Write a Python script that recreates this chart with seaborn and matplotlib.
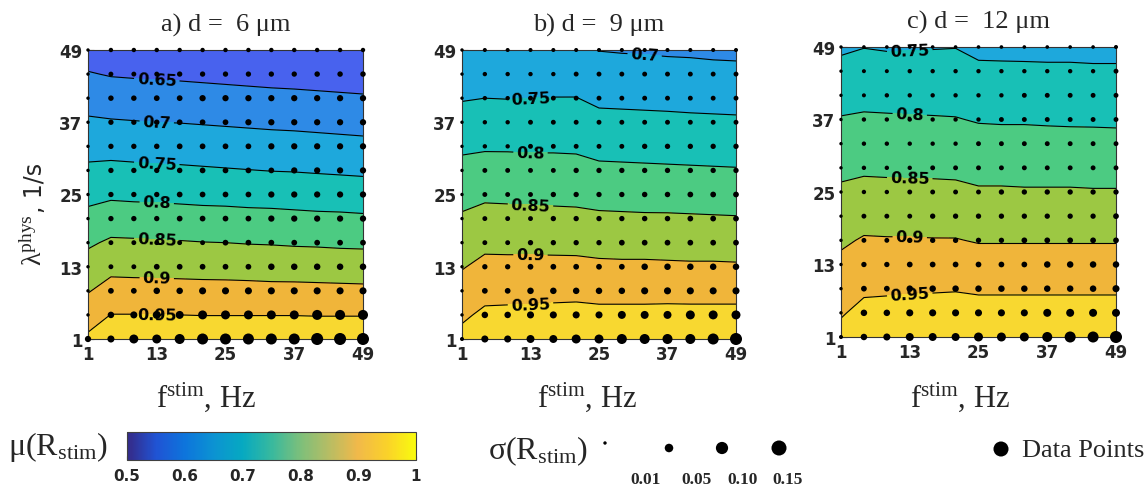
import numpy as np
import pandas as pd
import matplotlib
matplotlib.use("Agg")
import matplotlib.pyplot as plt
import seaborn as sns
from matplotlib.colors import LinearSegmentedColormap, Normalize
from matplotlib.cm import ScalarMappable

sns.set_style("ticks")
plt.rcParams["font.family"] = "DejaVu Sans"
plt.rcParams["mathtext.fontset"] = "custom"
plt.rcParams["mathtext.rm"] = "Liberation Serif"
plt.rcParams["mathtext.it"] = "Liberation Serif:italic"
plt.rcParams["mathtext.bf"] = "Liberation Serif:bold"

W, H = 1148, 489
SERIF = "Liberation Serif"

# grid: stimulation frequency (Hz) and physiological rate (1/s)
freq = [1, 5, 9, 13, 17, 21, 25, 29, 33, 37, 41, 45, 49]
lam = [1, 5, 9, 13, 17, 21, 25, 29, 33, 37, 41, 45, 49]
axis_ticks = [1, 13, 25, 37, 49]
titles = ["a) d =  6 μm", "b) d =  9 μm", "c) d =  12 μm"]

# mean R_stim, rows = lambda (1 -> 49), cols = freq (1 -> 49)
mu_6 = [
    [0.959, 0.982, 0.982, 0.983, 0.983, 0.984, 0.984, 0.984, 0.985, 0.985, 0.985, 0.986, 0.986],
    [0.927, 0.951, 0.951, 0.950, 0.950, 0.949, 0.949, 0.949, 0.949, 0.949, 0.948, 0.948, 0.948],
    [0.897, 0.918, 0.917, 0.917, 0.916, 0.915, 0.915, 0.914, 0.913, 0.913, 0.912, 0.911, 0.910],
    [0.870, 0.887, 0.886, 0.885, 0.884, 0.883, 0.882, 0.881, 0.879, 0.878, 0.877, 0.876, 0.875],
    [0.843, 0.857, 0.856, 0.854, 0.853, 0.851, 0.850, 0.848, 0.847, 0.845, 0.844, 0.842, 0.841],
    [0.814, 0.825, 0.823, 0.822, 0.820, 0.818, 0.817, 0.815, 0.814, 0.812, 0.810, 0.809, 0.807],
    [0.786, 0.792, 0.790, 0.789, 0.787, 0.785, 0.784, 0.782, 0.781, 0.779, 0.777, 0.776, 0.774],
    [0.759, 0.762, 0.760, 0.758, 0.757, 0.755, 0.753, 0.751, 0.749, 0.748, 0.746, 0.744, 0.742],
    [0.733, 0.733, 0.731, 0.729, 0.728, 0.726, 0.724, 0.722, 0.720, 0.718, 0.716, 0.714, 0.712],
    [0.707, 0.704, 0.702, 0.700, 0.699, 0.697, 0.695, 0.693, 0.691, 0.690, 0.688, 0.686, 0.684],
    [0.680, 0.675, 0.673, 0.671, 0.670, 0.668, 0.666, 0.664, 0.662, 0.661, 0.659, 0.657, 0.655],
    [0.653, 0.647, 0.645, 0.643, 0.642, 0.640, 0.638, 0.636, 0.634, 0.632, 0.630, 0.628, 0.626],
    [0.627, 0.619, 0.617, 0.616, 0.614, 0.613, 0.611, 0.610, 0.608, 0.607, 0.605, 0.604, 0.602],
]
mu_9 = [
    [0.964, 0.982, 0.984, 0.986, 0.988, 0.990, 0.989, 0.990, 0.990, 0.990, 0.991, 0.991, 0.992],
    [0.942, 0.959, 0.960, 0.961, 0.963, 0.964, 0.962, 0.962, 0.962, 0.963, 0.963, 0.963, 0.963],
    [0.919, 0.935, 0.936, 0.936, 0.937, 0.938, 0.935, 0.935, 0.935, 0.935, 0.934, 0.934, 0.934],
    [0.897, 0.912, 0.912, 0.912, 0.912, 0.912, 0.909, 0.908, 0.908, 0.907, 0.906, 0.906, 0.905],
    [0.877, 0.889, 0.888, 0.888, 0.887, 0.886, 0.883, 0.882, 0.882, 0.881, 0.880, 0.880, 0.879],
    [0.856, 0.865, 0.864, 0.863, 0.862, 0.861, 0.858, 0.857, 0.856, 0.856, 0.855, 0.854, 0.853],
    [0.835, 0.842, 0.841, 0.840, 0.839, 0.838, 0.834, 0.833, 0.832, 0.831, 0.830, 0.829, 0.828],
    [0.814, 0.818, 0.817, 0.816, 0.816, 0.815, 0.809, 0.808, 0.807, 0.806, 0.805, 0.804, 0.803],
    [0.792, 0.795, 0.795, 0.794, 0.794, 0.793, 0.786, 0.785, 0.784, 0.783, 0.782, 0.781, 0.780],
    [0.769, 0.772, 0.772, 0.772, 0.772, 0.772, 0.763, 0.762, 0.761, 0.760, 0.759, 0.758, 0.757],
    [0.747, 0.750, 0.749, 0.750, 0.751, 0.751, 0.741, 0.740, 0.739, 0.738, 0.736, 0.735, 0.734],
    [0.724, 0.728, 0.728, 0.729, 0.729, 0.730, 0.720, 0.719, 0.717, 0.716, 0.715, 0.713, 0.712],
    [0.702, 0.706, 0.706, 0.707, 0.707, 0.708, 0.699, 0.697, 0.696, 0.694, 0.693, 0.691, 0.690],
]
mu_12 = [
    [0.964, 0.981, 0.984, 0.987, 0.989, 0.992, 0.991, 0.991, 0.991, 0.991, 0.991, 0.991, 0.991],
    [0.946, 0.962, 0.964, 0.966, 0.968, 0.970, 0.967, 0.967, 0.967, 0.967, 0.967, 0.967, 0.967],
    [0.928, 0.943, 0.944, 0.945, 0.946, 0.947, 0.944, 0.944, 0.944, 0.944, 0.944, 0.944, 0.944],
    [0.910, 0.924, 0.924, 0.924, 0.925, 0.925, 0.920, 0.920, 0.920, 0.920, 0.920, 0.920, 0.920],
    [0.893, 0.904, 0.903, 0.903, 0.902, 0.902, 0.897, 0.897, 0.897, 0.897, 0.897, 0.897, 0.897],
    [0.875, 0.884, 0.883, 0.882, 0.882, 0.881, 0.876, 0.876, 0.876, 0.876, 0.875, 0.875, 0.875],
    [0.857, 0.863, 0.862, 0.862, 0.861, 0.860, 0.855, 0.855, 0.854, 0.854, 0.854, 0.853, 0.853],
    [0.840, 0.843, 0.842, 0.841, 0.841, 0.840, 0.835, 0.835, 0.834, 0.834, 0.834, 0.833, 0.833],
    [0.821, 0.825, 0.824, 0.823, 0.822, 0.821, 0.816, 0.815, 0.815, 0.814, 0.814, 0.813, 0.813],
    [0.803, 0.806, 0.805, 0.804, 0.803, 0.802, 0.797, 0.796, 0.796, 0.795, 0.794, 0.794, 0.793],
    [0.783, 0.787, 0.786, 0.785, 0.785, 0.784, 0.778, 0.777, 0.777, 0.776, 0.776, 0.775, 0.775],
    [0.763, 0.768, 0.768, 0.767, 0.767, 0.767, 0.759, 0.758, 0.758, 0.757, 0.757, 0.756, 0.756],
    [0.743, 0.749, 0.746, 0.747, 0.748, 0.749, 0.739, 0.739, 0.738, 0.738, 0.738, 0.737, 0.737],
]

# std of R_stim (marker size), same layout
sd_6 = [
    [0.028, 0.035, 0.055, 0.055, 0.068, 0.082, 0.082, 0.082, 0.082, 0.082, 0.097, 0.097, 0.097],
    [0.006, 0.030, 0.035, 0.044, 0.044, 0.055, 0.055, 0.055, 0.055, 0.055, 0.068, 0.068, 0.068],
    [0.006, 0.024, 0.024, 0.030, 0.030, 0.035, 0.035, 0.035, 0.035, 0.035, 0.035, 0.035, 0.035],
    [0.006, 0.018, 0.018, 0.024, 0.024, 0.024, 0.024, 0.024, 0.030, 0.030, 0.030, 0.030, 0.030],
    [0.006, 0.018, 0.018, 0.018, 0.018, 0.018, 0.024, 0.024, 0.024, 0.024, 0.024, 0.024, 0.024],
    [0.006, 0.021, 0.021, 0.021, 0.024, 0.024, 0.024, 0.024, 0.028, 0.028, 0.028, 0.028, 0.028],
    [0.006, 0.021, 0.021, 0.021, 0.024, 0.024, 0.024, 0.024, 0.028, 0.028, 0.028, 0.028, 0.028],
    [0.006, 0.021, 0.021, 0.021, 0.022, 0.024, 0.024, 0.024, 0.024, 0.028, 0.028, 0.028, 0.028],
    [0.006, 0.021, 0.021, 0.022, 0.024, 0.024, 0.024, 0.024, 0.028, 0.028, 0.028, 0.028, 0.028],
    [0.006, 0.021, 0.021, 0.022, 0.024, 0.024, 0.024, 0.028, 0.028, 0.028, 0.028, 0.028, 0.028],
    [0.006, 0.022, 0.022, 0.024, 0.024, 0.028, 0.028, 0.028, 0.028, 0.028, 0.028, 0.028, 0.028],
    [0.006, 0.018, 0.018, 0.018, 0.021, 0.021, 0.021, 0.021, 0.021, 0.021, 0.022, 0.022, 0.022],
    [0.006, 0.015, 0.015, 0.015, 0.015, 0.015, 0.015, 0.015, 0.015, 0.015, 0.015, 0.015, 0.015],
]
sd_9 = [
    [0.013, 0.035, 0.035, 0.044, 0.044, 0.055, 0.055, 0.068, 0.068, 0.068, 0.068, 0.082, 0.097],
    [0.006, 0.030, 0.030, 0.035, 0.035, 0.035, 0.035, 0.044, 0.044, 0.044, 0.055, 0.055, 0.055],
    [0.006, 0.024, 0.024, 0.030, 0.030, 0.030, 0.030, 0.030, 0.035, 0.035, 0.035, 0.035, 0.035],
    [0.006, 0.021, 0.021, 0.024, 0.024, 0.024, 0.024, 0.024, 0.030, 0.030, 0.030, 0.030, 0.030],
    [0.006, 0.018, 0.018, 0.021, 0.021, 0.021, 0.021, 0.024, 0.024, 0.024, 0.024, 0.024, 0.024],
    [0.006, 0.018, 0.018, 0.018, 0.021, 0.021, 0.021, 0.021, 0.022, 0.022, 0.024, 0.024, 0.024],
    [0.006, 0.018, 0.018, 0.018, 0.021, 0.021, 0.021, 0.021, 0.022, 0.022, 0.024, 0.024, 0.024],
    [0.006, 0.018, 0.018, 0.018, 0.018, 0.021, 0.021, 0.021, 0.021, 0.021, 0.021, 0.021, 0.021],
    [0.006, 0.015, 0.015, 0.018, 0.018, 0.018, 0.018, 0.018, 0.021, 0.021, 0.021, 0.021, 0.021],
    [0.006, 0.015, 0.015, 0.018, 0.018, 0.018, 0.018, 0.018, 0.018, 0.018, 0.018, 0.018, 0.018],
    [0.006, 0.015, 0.015, 0.018, 0.018, 0.018, 0.018, 0.018, 0.018, 0.018, 0.018, 0.018, 0.018],
    [0.006, 0.015, 0.015, 0.015, 0.015, 0.018, 0.018, 0.018, 0.018, 0.018, 0.018, 0.018, 0.018],
    [0.006, 0.013, 0.013, 0.013, 0.013, 0.013, 0.013, 0.013, 0.013, 0.013, 0.013, 0.013, 0.013],
]
sd_12 = [
    [0.013, 0.030, 0.035, 0.044, 0.044, 0.044, 0.055, 0.055, 0.055, 0.068, 0.082, 0.082, 0.097],
    [0.006, 0.030, 0.030, 0.035, 0.035, 0.035, 0.035, 0.035, 0.035, 0.044, 0.044, 0.044, 0.044],
    [0.006, 0.024, 0.024, 0.030, 0.030, 0.030, 0.030, 0.030, 0.030, 0.030, 0.030, 0.030, 0.035],
    [0.006, 0.021, 0.021, 0.024, 0.024, 0.024, 0.024, 0.024, 0.024, 0.030, 0.030, 0.030, 0.030],
    [0.006, 0.018, 0.018, 0.021, 0.021, 0.021, 0.021, 0.021, 0.024, 0.024, 0.024, 0.024, 0.024],
    [0.006, 0.018, 0.018, 0.018, 0.021, 0.021, 0.021, 0.021, 0.021, 0.021, 0.021, 0.021, 0.024],
    [0.006, 0.015, 0.015, 0.018, 0.018, 0.018, 0.018, 0.021, 0.021, 0.021, 0.021, 0.021, 0.021],
    [0.006, 0.015, 0.015, 0.015, 0.018, 0.018, 0.018, 0.018, 0.018, 0.018, 0.018, 0.018, 0.018],
    [0.006, 0.015, 0.015, 0.015, 0.015, 0.015, 0.018, 0.018, 0.018, 0.018, 0.018, 0.018, 0.018],
    [0.006, 0.015, 0.015, 0.015, 0.015, 0.015, 0.015, 0.018, 0.018, 0.018, 0.018, 0.018, 0.018],
    [0.006, 0.013, 0.015, 0.015, 0.015, 0.015, 0.015, 0.015, 0.018, 0.018, 0.018, 0.018, 0.018],
    [0.006, 0.013, 0.013, 0.015, 0.015, 0.015, 0.015, 0.015, 0.015, 0.015, 0.015, 0.015, 0.018],
    [0.006, 0.011, 0.011, 0.011, 0.011, 0.011, 0.011, 0.011, 0.011, 0.011, 0.011, 0.011, 0.013],
]

fill_levels = [0.5, 0.55, 0.6, 0.65, 0.7, 0.75, 0.8, 0.85, 0.9, 0.95, 1.0]
line_levels = [0.55, 0.6, 0.65, 0.7, 0.75, 0.8, 0.85, 0.9, 0.95]
band_colors = ["#3b3fb5", "#3f50d8", "#4862ee", "#2e8ae6", "#1ea8dc",
               "#18c0b6", "#4ccb82", "#9cc843", "#f0b53a", "#f8d830"]

# parula-like colormap for the colorbar
parula_anchors = ["#352a87", "#2053d4", "#0d75dc", "#0c93d2", "#06a9c1", "#38b99e",
                  "#7cbf7b", "#b7bd64", "#f1b94a", "#fad12a", "#f9fb0e"]
cbar_ticks = [0.5, 0.6, 0.7, 0.8, 0.9, 1.0]
cbar_labels = ["0.5", "0.6", "0.7", "0.8", "0.9", "1"]

sigma_keys = [0.01, 0.05, 0.10, 0.15]
sigma_key_labels = ["0.01", "0.05", "0.10", "0.15"]

SIZES = (6, 117)
SIZE_NORM = (0.01, 0.15)

parula = LinearSegmentedColormap.from_list("parula", parula_anchors)

fig = plt.figure(figsize=(W / 100, H / 100), dpi=100)
boxes = [(88, 51, 363, 340), (462, 51, 736, 340), (841, 48, 1116, 338)]

F, L = np.meshgrid(freq, lam)
panels = [(mu_6, sd_6), (mu_9, sd_9), (mu_12, sd_12)]
for (x0, y0, x1, y1), (mu, sd), title in zip(boxes, panels, titles):
    ax = fig.add_axes([x0 / W, (H - y1) / H, (x1 - x0) / W, (y1 - y0) / H])
    M = np.array(mu)
    ax.contourf(F, L, M, levels=fill_levels, colors=band_colors)
    cs = ax.contour(F, L, M, levels=line_levels, colors="black", linewidths=0.8)

    # put each label on its line near f ~ 13
    spots = []
    for path in cs.get_paths():
        v = path.vertices
        if len(v) == 0:
            continue
        target = max(13.5, v[:, 0].min() + 8)
        i = np.argmin(np.abs(v[:, 0] - target))
        spots.append((v[i, 0], v[i, 1]))
    with plt.rc_context({"font.weight": "bold"}):
        texts = ax.clabel(cs, manual=spots, inline=True, fontsize=11.5, fmt="%g", inline_spacing=3)
    for t in texts:
        t.set_clip_on(False)

    df = pd.DataFrame({"f": F.ravel(), "lam": L.ravel(), "sd": np.array(sd).ravel()})
    sns.scatterplot(data=df, x="f", y="lam", size="sd", sizes=SIZES, size_norm=SIZE_NORM,
                    color="black", edgecolor="none", linewidth=0, legend=False,
                    ax=ax, clip_on=False, zorder=5)

    ax.set_xlim(1, 49)
    ax.set_ylim(1, 49)
    ax.set_xticks(axis_ticks)
    ax.set_yticks(axis_ticks)
    ax.set_xlabel("")
    ax.set_ylabel("")
    ax.tick_params(direction="in", length=4, width=0.8, labelsize=12, pad=4, colors="#262626")
    for lab in ax.get_xticklabels() + ax.get_yticklabels():
        lab.set_fontweight("bold")
    for sp in ax.spines.values():
        sp.set_color("#333333")
        sp.set_linewidth(0.8)
    ax.set_title(title, fontfamily=SERIF, fontsize=19, pad=14)

# overlay in pixel coordinates for labels and legends
over = fig.add_axes([0, 0, 1, 1])
over.patch.set_visible(False)
over.set_xlim(0, W)
over.set_ylim(H, 0)

for xc in [206, 587, 960]:
    over.text(xc, 407, r"$\mathregular{f^{stim}}$, Hz", ha="center", va="baseline",
              fontfamily=SERIF, fontsize=22)

renderer = fig.canvas.get_renderer()
t1 = over.text(42, 266, r"$\mathregular{λ^{phys}}$", rotation=90, rotation_mode="anchor",
               ha="left", va="baseline", fontfamily=SERIF, fontsize=20)
bb = t1.get_window_extent(renderer=renderer)
over.text(42, H - bb.y1 - 1, ", 1/s", rotation=90, rotation_mode="anchor",
          ha="left", va="baseline", fontsize=17)

over.text(8, 447, r"$\mathregular{μ(R_{stim})}$", ha="left", va="center",
          fontfamily=SERIF, fontsize=23)
over.text(488, 451, r"$\mathregular{σ(R_{stim})}$", ha="left", va="center",
          fontfamily=SERIF, fontsize=23)

key_df = pd.DataFrame({"x": [605, 669, 722, 779], "y": [444, 449, 449, 449], "sd": sigma_keys})
sns.scatterplot(data=key_df, x="x", y="y", size="sd", sizes=SIZES, size_norm=SIZE_NORM,
                color="black", edgecolor="none", linewidth=0, legend=False, ax=over, clip_on=False)
for xc, lab in zip([646, 696, 743, 788], sigma_key_labels):
    over.text(xc, 480, lab, ha="center", va="center", fontfamily=SERIF,
              fontweight="bold", fontsize=12.5)

sns.scatterplot(x=[1001], y=[450], s=117, color="black", edgecolor="none", ax=over,
                legend=False, clip_on=False)
over.text(1022, 451, "Data Points", ha="left", va="center", fontfamily=SERIF, fontsize=19)

over.set_xlim(0, W)
over.set_ylim(H, 0)
over.axis("off")

# colorbar for mean R_stim
cax = fig.add_axes([127 / W, (H - 461) / H, 289 / W, 28 / H])
cb = fig.colorbar(ScalarMappable(norm=Normalize(0.5, 1.0), cmap=parula), cax=cax,
                  orientation="horizontal", ticks=cbar_ticks)
cb.set_ticklabels(cbar_labels)
cb.outline.set_edgecolor("#404040")
cb.outline.set_linewidth(0.8)
cax.tick_params(direction="in", length=3, labelsize=11, pad=6, colors="#262626")
for lab in cax.get_xticklabels():
    lab.set_fontweight("bold")

fig.savefig("out.png", dpi=100)
